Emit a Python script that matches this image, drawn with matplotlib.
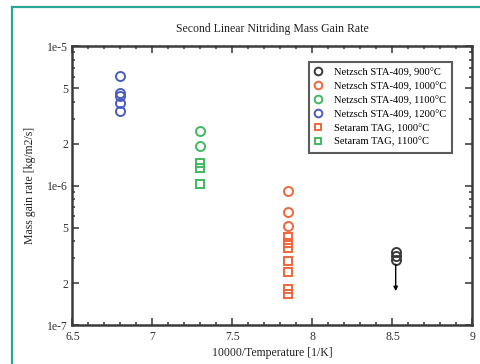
import matplotlib
matplotlib.use("Agg")
import matplotlib.pyplot as plt
from matplotlib.lines import Line2D
import numpy as np

# inverse temperature (10000/T) for each furnace setting
x_900 = 8.52
x_1000 = 7.85
x_1100 = 7.30
x_1200 = 6.80

# mass gain rates [kg/m2/s]
sta_900 = [3.34e-7, 3.13e-7, 2.92e-7]
sta_900_arrow_end = 1.75e-7
sta_1000 = [9.1e-7, 6.5e-7, 5.1e-7]
sta_1100 = [2.46e-6, 1.92e-6]
sta_1200 = [6.1e-6, 4.6e-6, 4.38e-6, 3.9e-6, 3.42e-6]
tag_1000 = [4.28e-7, 3.87e-7, 3.56e-7, 2.88e-7, 2.40e-7, 1.81e-7, 1.67e-7]
tag_1100 = [1.45e-6, 1.33e-6, 1.02e-6]

labels = [
    "Netzsch STA-409, 900°C",
    "Netzsch STA-409, 1000°C",
    "Netzsch STA-409, 1100°C",
    "Netzsch STA-409, 1200°C",
    "Setaram TAG, 1000°C",
    "Setaram TAG, 1100°C",
]

y_ticks = [1e-7, 2e-7, 5e-7, 1e-6, 2e-6, 5e-6, 1e-5]
y_tick_labels = ["1e-7", "2", "5", "1e-6", "2", "5", "1e-5"]
x_ticks = [6.5, 7, 7.5, 8, 8.5, 9]
x_tick_labels = ["6.5", "7", "7.5", "8", "8.5", "9"]

BLACK = "#3a3a3a"
ORANGE = "#f0663c"
GREEN = "#3dba5e"
BLUE = "#4a5cc0"

plt.rcParams["font.family"] = ["Liberation Serif", "DejaVu Serif"]

fig = plt.figure(figsize=(4.81, 3.64), dpi=100)
ax = fig.add_axes([0.1507, 0.1071, 0.8316, 0.7665])

ms = 6.5
mew = 1.4
common = dict(linestyle="none", markerfacecolor="none", markersize=ms, markeredgewidth=mew)

ax.plot([x_900] * len(sta_900), sta_900, marker="o", color=BLACK, label=labels[0], **common)
ax.plot([x_1000] * len(sta_1000), sta_1000, marker="o", color=ORANGE, label=labels[1], **common)
ax.plot([x_1100] * len(sta_1100), sta_1100, marker="o", color=GREEN, label=labels[2], **common)
ax.plot([x_1200] * len(sta_1200), sta_1200, marker="o", color=BLUE, label=labels[3], **common)
ax.plot([x_1000] * len(tag_1000), tag_1000, marker="s", color=ORANGE, label=labels[4],
        **dict(common, markersize=5.5))
ax.plot([x_1100] * len(tag_1100), tag_1100, marker="s", color=GREEN, label=labels[5],
        **dict(common, markersize=5.5))

# upper-bound arrow below the 900 C points
ax.annotate("", xy=(x_900, sta_900_arrow_end), xytext=(x_900, min(sta_900)),
            arrowprops=dict(arrowstyle="-|>", color="black", lw=1.0,
                            mutation_scale=6, shrinkA=3, shrinkB=0))

ax.set_yscale("log")
ax.set_xlim(6.5, 9)
ax.set_ylim(1e-7, 1e-5)

ax.set_yticks(y_ticks, y_tick_labels)
minor_y = [m * 10.0 ** e for e in (-7, -6) for m in (3, 4, 6, 7, 8, 9)]
ax.set_yticks(minor_y, minor=True)
ax.set_yticklabels([], minor=True)
ax.set_xticks(x_ticks, x_tick_labels)
ax.set_xticks(np.arange(6.5, 9.01, 0.1), minor=True)

ax.tick_params(which="both", direction="in", top=True, right=True,
               labelsize=8.5, colors="#333333", width=1.1)
ax.tick_params(axis="x", pad=4)
ax.tick_params(axis="y", pad=3)
ax.tick_params(which="major", length=5)
ax.tick_params(which="minor", length=2.5)
for s in ax.spines.values():
    s.set_linewidth(1.8)
    s.set_color("#3a3a3a")

ax.set_title("Second Linear Nitriding Mass Gain Rate", fontsize=8.5, color="#222222", pad=10)
ax.set_xlabel("10000/Temperature [1/K]", fontsize=8.5, color="#222222", labelpad=3)
ax.set_ylabel("Mass gain rate [kg/m2/s]", fontsize=8.5, color="#222222", labelpad=8)

leg = ax.legend(loc="upper right", bbox_to_anchor=(0.95, 0.943), fontsize=7.6,
                frameon=True, fancybox=False, handlelength=0.6, handletextpad=1.3,
                borderpad=0.55, labelspacing=0.42, markerscale=0.85, borderaxespad=0)
leg.get_frame().set_edgecolor("#333333")
leg.get_frame().set_linewidth(1.5)

# teal page frame along the left and top edges
teal = "#2aa596"
fig.add_artist(Line2D([12 / 481, 12 / 481], [0, 1 - 7 / 364], color=teal, lw=1.6,
                      transform=fig.transFigure))
fig.add_artist(Line2D([12 / 481, 1], [1 - 7 / 364, 1 - 7 / 364], color=teal, lw=1.6,
                      transform=fig.transFigure))

fig.savefig("out.png", dpi=100)
